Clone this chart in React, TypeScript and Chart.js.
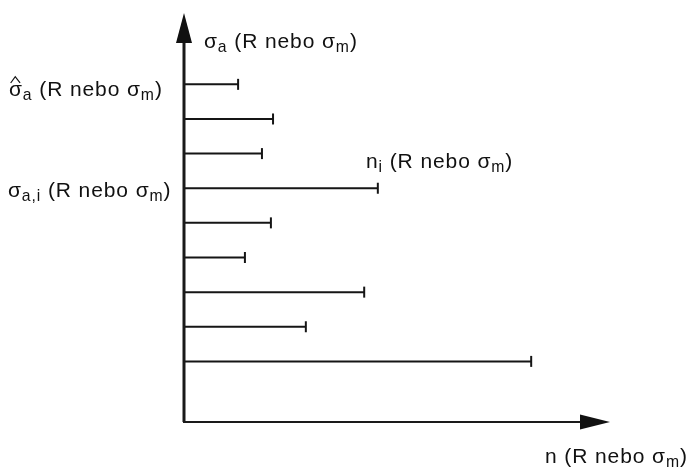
import React, { useEffect, useRef } from "react";
import { Chart, registerables } from "chart.js";

Chart.register(...registerables);

// stress levels (bottom to top) and number of cycles at each level
const levels = [1, 2, 3, 4, 5, 6, 7, 8, 9];
const cycles = [81.5, 28.6, 42.3, 14.3, 20.4, 45.5, 18.3, 20.9, 12.7];
const xMin = 0;
const xMax = 100;
const yMin = -0.75;
const yMax = 11.06;

type Seg = { t: string; sub?: boolean; hat?: boolean };
const topLabel: Seg[] = [{ t: "σ" }, { t: "a", sub: true }, { t: " (R nebo σ" }, { t: "m", sub: true }, { t: ")" }];
const hatLabel: Seg[] = [{ t: "σ", hat: true }, { t: "a", sub: true }, { t: " (R nebo σ" }, { t: "m", sub: true }, { t: ")" }];
const levelLabel: Seg[] = [{ t: "σ" }, { t: "a,i", sub: true }, { t: " (R nebo σ" }, { t: "m", sub: true }, { t: ")" }];
const niLabel: Seg[] = [{ t: "n" }, { t: "i", sub: true }, { t: " (R nebo σ" }, { t: "m", sub: true }, { t: ")" }];
const xLabel: Seg[] = [{ t: "n (R nebo σ" }, { t: "m", sub: true }, { t: ")" }];

const FONT = "Liberation Sans, Arial, sans-serif";

function drawRich(ctx: CanvasRenderingContext2D, segs: Seg[], x: number, y: number, size: number) {
  let cx = x;
  ctx.fillStyle = "#111";
  ctx.textBaseline = "alphabetic";
  ctx.textAlign = "left";
  (ctx as any).letterSpacing = "0.9px";
  for (const s of segs) {
    const fs = s.sub ? size * 0.75 : size;
    ctx.font = `${fs}px ${FONT}`;
    const dy = s.sub ? size * 0.2 : 0;
    ctx.fillText(s.t, cx, y + dy);
    const w = ctx.measureText(s.t).width;
    if (s.hat) {
      ctx.save();
      ctx.strokeStyle = "#111";
      ctx.lineWidth = 1.2;
      ctx.beginPath();
      ctx.moveTo(cx + w * 0.12, y - size * 0.62);
      ctx.lineTo(cx + w * 0.45, y - size * 0.92);
      ctx.lineTo(cx + w * 0.8, y - size * 0.62);
      ctx.stroke();
      ctx.restore();
    }
    cx += w;
  }
  (ctx as any).letterSpacing = "0px";
}

const axesPlugin = {
  id: "axesArrows",
  afterDatasetsDraw(chart: any) {
    const { ctx, chartArea } = chart;
    const { left, right, top, bottom } = chartArea;
    ctx.save();
    ctx.strokeStyle = "#1a1a1a";
    ctx.fillStyle = "#111";
    // vertical axis
    ctx.lineWidth = 3;
    ctx.beginPath();
    ctx.moveTo(left, bottom);
    ctx.lineTo(left, top + 25);
    ctx.stroke();
    ctx.beginPath();
    ctx.moveTo(left, top);
    ctx.lineTo(left - 8, top + 30);
    ctx.lineTo(left + 8, top + 30);
    ctx.closePath();
    ctx.fill();
    // horizontal axis
    ctx.lineWidth = 2;
    ctx.beginPath();
    ctx.moveTo(left - 1, bottom);
    ctx.lineTo(right - 25, bottom);
    ctx.stroke();
    ctx.beginPath();
    ctx.moveTo(right, bottom);
    ctx.lineTo(right - 30, bottom - 7.5);
    ctx.lineTo(right - 30, bottom + 7.5);
    ctx.closePath();
    ctx.fill();
    // labels
    const fs = 21;
    drawRich(ctx, topLabel, left + 20, 48, fs);
    drawRich(ctx, hatLabel, 9, 96, fs);
    drawRich(ctx, levelLabel, 8, 197, fs);
    drawRich(ctx, niLabel, 366, 168, fs);
    drawRich(ctx, xLabel, 545, 463, fs);
    ctx.restore();
  },
};

export default function App() {
  const ref = useRef<HTMLCanvasElement>(null);
  useEffect(() => {
    document.body.style.margin = "0";
    const datasets = levels.map((lv, i) => ({
      data: [
        { x: 0, y: lv },
        { x: cycles[i], y: lv },
      ],
      showLine: true,
      borderColor: "#151515",
      borderWidth: 2,
      pointStyle: "line" as const,
      pointRotation: 90,
      pointRadius: [0, 5.5],
      pointBorderWidth: 2,
      pointBorderColor: "#151515",
      pointBackgroundColor: "#151515",
    }));
    const chart = new Chart(ref.current!, {
      type: "scatter",
      data: { datasets },
      options: {
        animation: false,
        responsive: false,
        devicePixelRatio: 1,
        layout: { padding: { left: 184, right: 80, top: 13, bottom: 45 } },
        plugins: { legend: { display: false }, tooltip: { enabled: false } },
        scales: {
          x: { type: "linear", min: xMin, max: xMax, display: false },
          y: { type: "linear", min: yMin, max: yMax, display: false },
        },
      },
      plugins: [axesPlugin],
    });
    return () => chart.destroy();
  }, []);
  return (
    <div style={{ width: 690, height: 467, background: "#fff" }}>
      <canvas ref={ref} width={690} height={467} />
    </div>
  );
}
